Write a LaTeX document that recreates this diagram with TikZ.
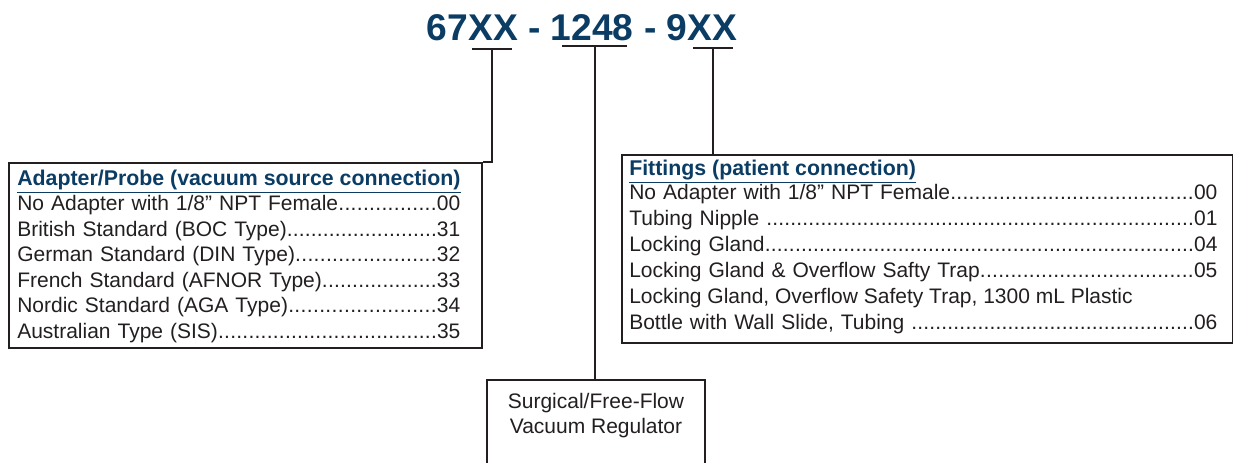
\documentclass[tikz,border=0pt]{standalone}
\usepackage{fontspec}
\setmainfont{Liberation Sans}
\usetikzlibrary{positioning}
\definecolor{codeblue}{HTML}{0B3C64}
\definecolor{inkgray}{HTML}{231F20}
\newcommand{\leaderdots}{\xleaders\hbox to 4.5pt{\hss.\hss}\hfill}

\begin{document}
\begin{tikzpicture}[
    x=0.75pt, y=-0.75pt,
    frame/.style={rectangle, draw=inkgray, line width=1.5pt, inner sep=0pt, anchor=north west},
    codebar/.style={draw=inkgray, line width=1.8pt},
    stem/.style={draw=inkgray, line width=1.5pt},
    entry/.style={anchor=base west, inner sep=0pt, text=inkgray, font=\fontsize{15.75pt}{19pt}\selectfont},
    heading/.style={entry, text=codeblue, font=\fontsize{16pt}{19pt}\selectfont\bfseries}
]
\clip (0,0) rectangle (1233,462);

% Part number
\node[anchor=base, inner sep=0pt, text=codeblue, font=\fontsize{27.9pt}{30pt}\selectfont\bfseries] (partno) at (582,40) {67XX - 1248 - 9XX};

% Marks under the code groups
\coordinate (adapterbar) at (492,49);
\coordinate (modelbar) at (594.5,46);
\coordinate (fittingbar) at (713,48);
\draw[codebar] (adapterbar) ++(-20,0) -- ++(40,0);
\draw[codebar] (modelbar) ++(-32.5,0) -- ++(65,0);
\draw[codebar] (fittingbar) ++(-20,0) -- ++(40,0);

% Boxes
\node[frame, minimum width=354.75pt, minimum height=138.75pt] (adapter) at (8,162) {};
\node[frame, minimum width=458.25pt, minimum height=141pt] (fittings) at (621,154) {};
\node[frame, minimum width=163.5pt, minimum height=75pt] (regulator) at (486,379) {};

% Stems
\draw[stem] (adapterbar) -- (adapterbar |- adapter.north) -- (adapter.north east);
\draw[stem] (modelbar) -- (modelbar |- regulator.north);
\draw[stem] (fittingbar) -- (fittingbar |- fittings.north);

% Adapter list
\node[heading] (adapterhead) at (17,185.5) {\underline{Adapter/Probe (vacuum source connection)}};
\foreach \item/\code [count=\i from 0] in {
    {No Adapter with 1/8” NPT Female}/00,
    {British Standard (BOC Type)}/31,
    {German Standard (DIN Type)}/32,
    {French Standard (AFNOR Type)}/33,
    {Nordic Standard (AGA Type)}/34,
    {Australian Type (SIS)}/35}
  \node[entry, text width=332.25pt] (adapter\i) at (17,210.5+25.6*\i) {\item\leaderdots\code};

% Fittings list
\node[heading] (fittingshead) at (629,175.5) {\underline{Fittings (patient connection)}};
\foreach \i/\item/\code in {
    0/{No Adapter with 1/8” NPT Female}/00,
    1/{Tubing Nipple\space}/01,
    2/{Locking Gland}/04,
    3/{Locking Gland \& Overflow Safty Trap}/05,
    5/{Bottle with Wall Slide, Tubing\space}/06}
  \node[entry, text width=441pt] (fittings\i) at (629,199.5+25.9*\i) {\item\leaderdots\code};
\node[entry] (fittings4) at (629,303.1) {Locking Gland, Overflow Safety Trap, 1300 mL Plastic};

% Regulator
\node[below=10.5pt of regulator.north, align=center, inner sep=0pt, text=inkgray,
      font=\fontsize{15.75pt}{18.75pt}\selectfont] (regulatortext) {Surgical/Free-Flow\\Vacuum Regulator};

\end{tikzpicture}
\end{document}
